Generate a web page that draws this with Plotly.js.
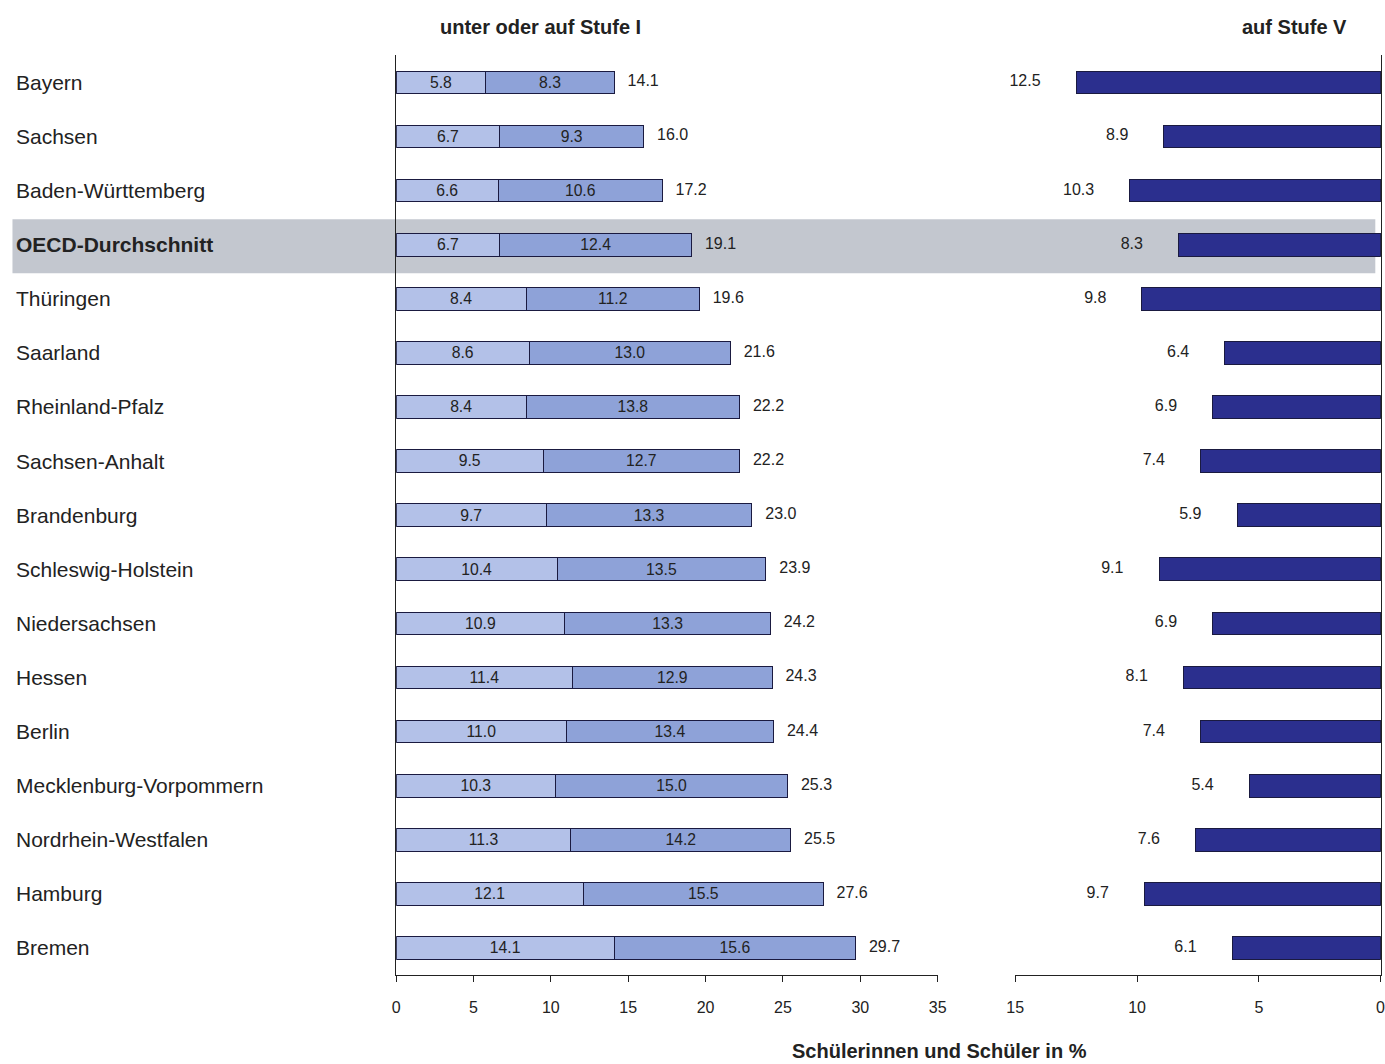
<!DOCTYPE html>
<html><head><meta charset="utf-8">
<script src="https://cdn.plot.ly/plotly-3.0.1.min.js"></script>
<style>body{margin:0;background:#fff}</style>
</head><body>
<div id="chart" style="width:1385px;height:1064px"></div>
<script>
var laender = ["Bayern","Sachsen","Baden-Württemberg","OECD-Durchschnitt","Thüringen","Saarland","Rheinland-Pfalz","Sachsen-Anhalt","Brandenburg","Schleswig-Holstein","Niedersachsen","Hessen","Berlin","Mecklenburg-Vorpommern","Nordrhein-Westfalen","Hamburg","Bremen"];
var unterStufe1 = [5.8,6.7,6.6,6.7,8.4,8.6,8.4,9.5,9.7,10.4,10.9,11.4,11.0,10.3,11.3,12.1,14.1];
var aufStufe1 = [8.3,9.3,10.6,12.4,11.2,13.0,13.8,12.7,13.3,13.5,13.3,12.9,13.4,15.0,14.2,15.5,15.6];
var summe = [14.1,16.0,17.2,19.1,19.6,21.6,22.2,22.2,23.0,23.9,24.2,24.3,24.4,25.3,25.5,27.6,29.7];
var stufe5 = [12.5,8.9,10.3,8.3,9.8,6.4,6.9,7.4,5.9,9.1,6.9,8.1,7.4,5.4,7.6,9.7,6.1];

var font = "Liberation Sans, Arial, sans-serif";
var fmt = function(v){ return v.toFixed(1); };
var line = {color:"#1a1a40", width:1};

var traces = [
  {type:"bar", orientation:"h", y:laender, x:unterStufe1, width:0.42,
   marker:{color:"#b3c1e8", line:line}, text:unterStufe1.map(fmt),
   textposition:"inside", insidetextanchor:"middle", textfont:{size:16,color:"#222"},
   xaxis:"x", yaxis:"y", showlegend:false, hoverinfo:"x"},
  {type:"bar", orientation:"h", y:laender, x:aufStufe1, width:0.42,
   marker:{color:"#8ea2d8", line:line}, text:aufStufe1.map(fmt),
   textposition:"inside", insidetextanchor:"middle", textfont:{size:16,color:"#222"},
   xaxis:"x", yaxis:"y", showlegend:false, hoverinfo:"x"},
  {type:"scatter", mode:"text", y:laender, x:summe, text:summe.map(function(v){return "   "+fmt(v);}),
   textposition:"middle right", textfont:{size:16,color:"#222",family:font},
   xaxis:"x", yaxis:"y", showlegend:false, hoverinfo:"skip", cliponaxis:false},
  {type:"bar", orientation:"h", y:laender, x:stufe5, width:0.42,
   marker:{color:"#2b2f8e", line:line},
   xaxis:"x2", yaxis:"y2", showlegend:false, hoverinfo:"x"},
  {type:"scatter", mode:"text", y:laender, x:stufe5, text:stufe5.map(function(v){return fmt(v)+"        ";}),
   textposition:"middle left", textfont:{size:16,color:"#222",family:font},
   xaxis:"x2", yaxis:"y2", showlegend:false, hoverinfo:"skip", cliponaxis:false}
];

var annotations = laender.map(function(l){
  return {xref:"paper", yref:"y", x:0.010, y:l, xanchor:"left", showarrow:false,
    text: l==="OECD-Durchschnitt" ? "<b>"+l+"</b>" : l, font:{size:21,color:"#222"}};
});
annotations.push(
  {xref:"paper", yref:"paper", x:0.39, y:0.987, xanchor:"center", yanchor:"top", showarrow:false,
   text:"<b>unter oder auf Stufe I</b>", font:{size:20,color:"#222"}},
  {xref:"paper", yref:"paper", x:0.935, y:0.987, xanchor:"center", yanchor:"top", showarrow:false,
   text:"<b>auf Stufe V</b>", font:{size:20,color:"#222"}},
  {xref:"paper", yref:"paper", x:0.678, y:0.0, xanchor:"center", yanchor:"bottom", showarrow:false,
   text:"<b>Schülerinnen und Schüler in %</b>", font:{size:20,color:"#222"}},
  // end tick label of the right axis, dropped by Plotly at the paper edge
  {xref:"x2", yref:"paper", x:0, y:0.0535, xanchor:"center", yanchor:"middle", showarrow:false,
   text:"0", font:{size:16,color:"#222"}}
);

var yax = {type:"category", autorange:false, range:[16.5,-0.5], domain:[0.0836,0.948],
  showticklabels:false, showgrid:false, zeroline:false, fixedrange:true};
var xcommon = {dtick:5, showgrid:false, zeroline:false, showline:true, linecolor:"#222",
  ticks:"outside", ticklen:6, tickcolor:"#222", tickfont:{size:16}, ticklabelstandoff:12};

var layout = {
  width:1385, height:1064, margin:{l:0,r:0,t:0,b:0},
  paper_bgcolor:"#fff", plot_bgcolor:"rgba(0,0,0,0)",
  font:{family:font, color:"#222"}, barmode:"stack",
  xaxis:Object.assign({domain:[0.286,0.677], range:[0,35], anchor:"y"}, xcommon),
  xaxis2:Object.assign({domain:[0.733,0.997], range:[15,0], anchor:"y2"}, xcommon),
  yaxis:Object.assign({}, yax, {anchor:"x", showline:true, linecolor:"#222"}),
  yaxis2:Object.assign({}, yax, {anchor:"x2", showline:true, linecolor:"#222", side:"right"}),
  shapes:[{type:"rect", xref:"paper", yref:"y", x0:0.009, x1:0.993, y0:2.53, y1:3.53,
    fillcolor:"#c3c7cf", line:{width:0}, layer:"below"}],
  annotations:annotations
};

Plotly.newPlot("chart", traces, layout, {displayModeBar:false});
</script>
</body></html>
